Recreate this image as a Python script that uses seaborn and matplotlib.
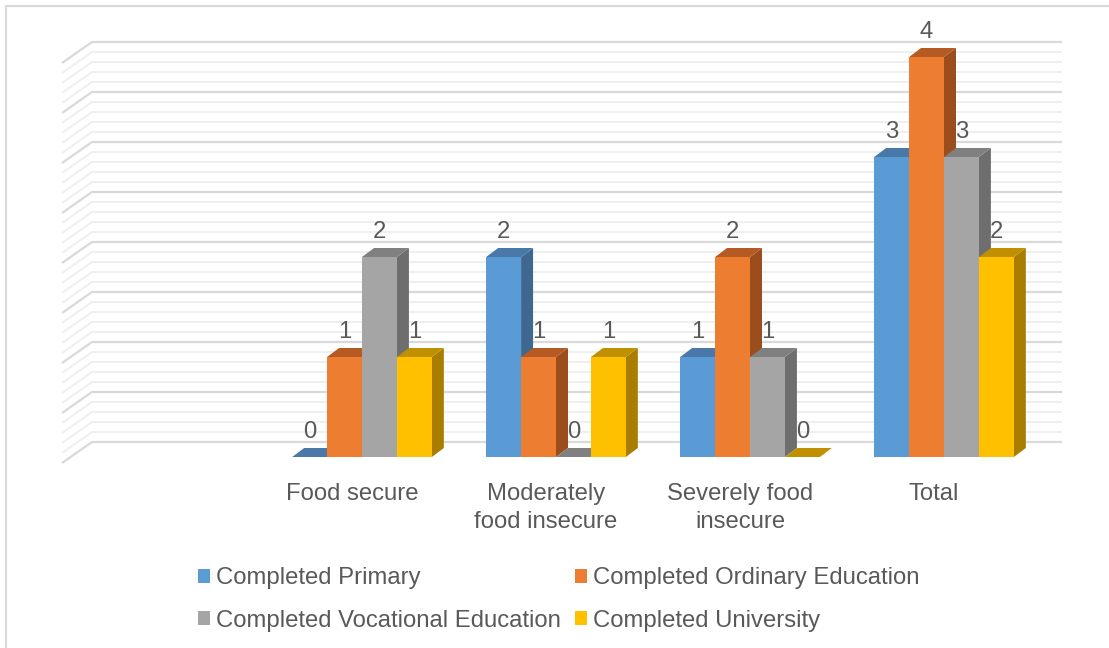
import numpy as np
import pandas as pd
import seaborn as sns
import matplotlib
matplotlib.use("Agg")
import matplotlib.pyplot as plt
from matplotlib.patches import Polygon, Patch
from matplotlib.lines import Line2D
from matplotlib.transforms import IdentityTransform, ScaledTranslation

# ---------------- data ----------------
categories = [" ", "Food secure", "Moderately food insecure", "Severely food insecure", "Total"]
tick_labels = ["", "Food secure", "Moderately\nfood insecure", "Severely food\ninsecure", "Total"]
series = ["Completed Primary", "Completed Ordinary Education",
          "Completed Vocational Education", "Completed University"]
data_categories = ["Food secure", "Moderately food insecure", "Severely food insecure", "Total"]
primary = [0, 2, 1, 3]
ordinary = [1, 1, 2, 4]
vocational = [2, 0, 1, 3]
university = [1, 1, 0, 2]

colors = ["#5B9BD5", "#ED7D31", "#A5A5A5", "#FFC000"]
top_colors = ["#4A78A8", "#B45A22", "#808080", "#C09000"]
side_colors = ["#3E6890", "#9C4D1D", "#6E6E6E", "#A87D00"]

rows = []
for s, vals in zip(series, [primary, ordinary, vocational, university]):
    for c, v in zip(data_categories, vals):
        rows.append({"category": c, "education": s, "count": v})
df = pd.DataFrame(rows)

# ---------------- style ----------------
sns.set_style("white")
plt.rcParams["font.family"] = ["Liberation Sans", "DejaVu Sans"]
TXT = "#595959"
FS = 17.2

W, H = 1109, 648
fig = plt.figure(figsize=(W / 100, H / 100), dpi=100)
ax = fig.add_axes([71 / W, (H - 457) / H, 970 / W, 420 / H])

sns.barplot(data=df, x="category", y="count", hue="education",
            order=categories, hue_order=series, palette=colors,
            width=0.72, saturation=1, linewidth=0, edgecolor="none",
            legend=False, ax=ax)

ax.set_xlim(-0.5, 4.5)
ax.set_ylim(0, 4.2)
for sp in ax.spines.values():
    sp.set_visible(False)
ax.set_yticks([])
ax.set_xlabel("")
ax.set_ylabel("")
ax.set_xticks(range(len(categories)))
ax.set_xticklabels(tick_labels, fontsize=FS, color=TXT, linespacing=1.38)
ax.tick_params(axis="x", length=0, pad=18.5)
for lab in ax.get_xticklabels():
    lab.set_transform(lab.get_transform() + ScaledTranslation(-10 / 100, 0, fig.dpi_scale_trans))
ax.patch.set_alpha(0)

ident = IdentityTransform()
# ---------------- walls / gridlines ----------------
back_dx, back_dy = 21, 15
front_dx, front_dy = -9, -6
levels = np.round(np.arange(0, 4.0001, 0.1), 2)
for v in levels:
    major = abs(v * 2 - round(v * 2)) < 1e-6
    col = "#D9D9D9" if major else "#EFEFEF"
    lw = 1.6 if major else 1.4
    zo = 0.6 if major else 0.5
    pl = ax.transData.transform((-0.5, v))
    pr = ax.transData.transform((4.5, v))
    xs = [pl[0] + front_dx, pl[0] + back_dx, pr[0] + back_dx]
    ys = [pl[1] + front_dy, pl[1] + back_dy, pr[1] + back_dy]
    ax.add_line(Line2D(xs, ys, transform=ident, color=col, lw=lw,
                       zorder=zo, solid_capstyle="butt", clip_on=False))

# ---------------- 3D bar faces ----------------
dx, dy = 12, 9
bars = sorted([p for p in ax.patches], key=lambda p: p.get_x())
inv = ax.transData.inverted()
for k, p in enumerate(bars):
    x0, w, h = p.get_x(), p.get_width(), p.get_height()
    if np.isnan(h):
        continue
    fc = matplotlib.colors.to_hex(p.get_facecolor())
    idx = [c.lower() for c in colors].index(fc.lower())
    z = 3 + k * 0.01
    p.set_zorder(z)
    br = ax.transData.transform((x0 + w, 0))
    tr = ax.transData.transform((x0 + w, h))
    tl = ax.transData.transform((x0, h))
    top = np.array([tl, tr, tr + [dx, dy], tl + [dx, dy]])
    side = np.array([br, br + [dx, dy], tr + [dx, dy], tr])
    ax.add_patch(Polygon(inv.transform(side), closed=True, facecolor=side_colors[idx],
                         edgecolor="none", zorder=z - 0.004, clip_on=False))
    ax.add_patch(Polygon(inv.transform(top), closed=True, facecolor=top_colors[idx],
                         edgecolor="none", zorder=z - 0.003, clip_on=False))
    ax.annotate(f"{int(h)}", xy=(x0 + w / 2, h), xytext=(0, 18), textcoords="offset points",
                ha="center", va="center", fontsize=FS, color=TXT, zorder=10,
                annotation_clip=False)

# ---------------- legend ----------------
handles = {s: Patch(facecolor=c, edgecolor="none", label=s) for s, c in zip(series, colors)}
order = [series[0], series[2], series[1], series[3]]
fig.legend([handles[s] for s in order], order, ncol=2, loc="center",
           bbox_to_anchor=(559 / W, 1 - 599.5 / H), frameon=False, fontsize=FS,
           handlelength=0.5, handleheight=0.5, handletextpad=0.25,
           columnspacing=0.6, labelspacing=0.86, labelcolor=TXT)

# ---------------- chart frame ----------------
fig.add_artist(Line2D([6 / W, 1], [1 - 6 / H, 1 - 6 / H], transform=fig.transFigure,
                      color="#D9D9D9", lw=1.5))
fig.add_artist(Line2D([6 / W, 6 / W], [0, 1 - 6 / H], transform=fig.transFigure,
                      color="#D9D9D9", lw=1.5))

fig.savefig("out.png", dpi=100, facecolor="white")
